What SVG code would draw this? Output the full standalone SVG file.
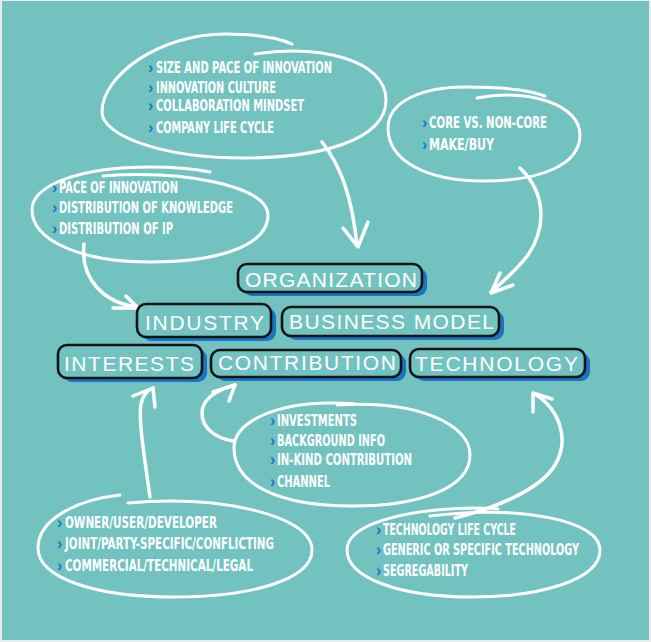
<svg xmlns="http://www.w3.org/2000/svg" width="651" height="642" viewBox="0 0 651 642">
<defs>
<style>
.bg{fill:#72c3bf}
.ring{fill:none;stroke:#fff;stroke-width:3;stroke-linecap:round;stroke-linejoin:round}
.arr{fill:none;stroke:#fff;stroke-width:3.5;stroke-linecap:round;stroke-linejoin:round}
.sh{fill:#1b73c4}
.bx{fill:#72c3bf;stroke:#141414;stroke-width:2.6}
.lb{fill:#fff;font-family:"Liberation Sans","DejaVu Sans",sans-serif;font-size:21px}
.b{fill:#fff;font-family:"Liberation Sans Narrow","DejaVu Sans Condensed","Liberation Sans",sans-serif;font-weight:bold;font-size:16px}
.c{fill:#1f74c6;font-family:"Liberation Sans","DejaVu Sans",sans-serif;font-weight:bold;font-size:16px}
</style>
</defs>
<rect x="0" y="0" width="651" height="642" fill="#e9eceb"/>
<rect class="bg" x="2" y="1" width="647" height="639"/>

<g id="connectors">
<path class="arr" d="M322,142 C340,165 352,195 357,246"/>
<path class="arr" d="M343,228 L358,247 L368,222"/>
<path class="arr" d="M520,168 C548,195 545,230 528,255 C515,272 500,284 491,292"/>
<path class="arr" d="M500,273 L491,293 L513,285"/>
<path class="arr" d="M84,244 C80,280 105,303 137,307"/>
<path class="arr" d="M126,296 L138,308 L113,308"/>
<path class="arr" d="M150,497 C145,460 138,420 141,404 C143,395 148,390 153,388"/>
<path class="arr" d="M133,396 L153,388 L155,407"/>
<path class="arr" d="M233,441 C215,438 202,428 202,413 C202,400 215,390 235,385"/>
<path class="arr" d="M213,392 L235,385 L229,401"/>
<path class="arr" d="M455,518 C495,508 540,490 555,465 C570,440 560,410 535,394"/>
<path class="arr" d="M533,412 L533,393 L552,399"/>
</g>

<g id="note-organization">
<path class="ring" d="M255,54 C320,44 386,60 386,100 C386,140 320,158 244,158 C160,158 102,135 102,112 C102,75 160,34 225,34 C255,34 278,38 292,44"/>
<text class="c" x="148" y="73">›</text><text class="b" x="156" y="73" textLength="176" lengthAdjust="spacingAndGlyphs">SIZE AND PACE OF INNOVATION</text>
<text class="c" x="148" y="93">›</text><text class="b" x="156" y="93" textLength="120" lengthAdjust="spacingAndGlyphs">INNOVATION CULTURE</text>
<text class="c" x="148" y="111">›</text><text class="b" x="156" y="111" textLength="148" lengthAdjust="spacingAndGlyphs">COLLABORATION MINDSET</text>
<text class="c" x="148" y="133">›</text><text class="b" x="156" y="133" textLength="118" lengthAdjust="spacingAndGlyphs">COMPANY LIFE CYCLE</text>
</g>

<g id="note-business-model">
<path class="ring" d="M477,98 C530,88 580,105 580,135 C580,165 540,181 484,181 C425,181 388,160 388,128 C388,100 425,87 465,87 C500,87 530,90 545,96"/>
<text class="c" x="422" y="128">›</text><text class="b" x="429" y="128" textLength="118" lengthAdjust="spacingAndGlyphs">CORE VS. NON-CORE</text>
<text class="c" x="422" y="150">›</text><text class="b" x="429" y="150" textLength="65" lengthAdjust="spacingAndGlyphs">MAKE/BUY</text>
</g>

<g id="note-industry">
<path class="ring" d="M103,176 C180,170 268,185 268,215 C268,245 220,262 150,262 C80,262 32,240 32,210 C32,185 80,167 150,167 C175,167 195,169 210,172"/>
<text class="c" x="52" y="193">›</text><text class="b" x="59" y="193" textLength="119" lengthAdjust="spacingAndGlyphs">PACE OF INNOVATION</text>
<text class="c" x="52" y="213">›</text><text class="b" x="59" y="213" textLength="174" lengthAdjust="spacingAndGlyphs">DISTRIBUTION OF KNOWLEDGE</text>
<text class="c" x="52" y="234">›</text><text class="b" x="59" y="234" textLength="114" lengthAdjust="spacingAndGlyphs">DISTRIBUTION OF IP</text>
</g>

<g id="note-contribution">
<path class="ring" d="M337,405 C420,400 470,425 470,455 C470,488 420,506 352,506 C280,506 234,485 234,448 C234,420 280,403 330,403 C340,403 348,403 354,404"/>
<text class="c" x="270" y="426">›</text><text class="b" x="277" y="426" textLength="80" lengthAdjust="spacingAndGlyphs">INVESTMENTS</text>
<text class="c" x="270" y="446">›</text><text class="b" x="277" y="446" textLength="108" lengthAdjust="spacingAndGlyphs">BACKGROUND INFO</text>
<text class="c" x="270" y="465">›</text><text class="b" x="277" y="465" textLength="135" lengthAdjust="spacingAndGlyphs">IN-KIND CONTRIBUTION</text>
<text class="c" x="270" y="487">›</text><text class="b" x="277" y="487" textLength="53" lengthAdjust="spacingAndGlyphs">CHANNEL</text>
</g>

<g id="note-interests">
<path class="ring" d="M128,503 C220,495 312,515 312,550 C312,580 250,597 174,597 C95,597 38,578 38,548 C38,520 75,500 120,495"/>
<text class="c" x="57" y="528">›</text><text class="b" x="65" y="528" textLength="152" lengthAdjust="spacingAndGlyphs">OWNER/USER/DEVELOPER</text>
<text class="c" x="57" y="549">›</text><text class="b" x="65" y="549" textLength="209" lengthAdjust="spacingAndGlyphs">JOINT/PARTY-SPECIFIC/CONFLICTING</text>
<text class="c" x="57" y="571">›</text><text class="b" x="65" y="571" textLength="188" lengthAdjust="spacingAndGlyphs">COMMERCIAL/TECHNICAL/LEGAL</text>
</g>

<g id="note-technology">
<path class="ring" d="M430,516 C520,505 600,520 600,550 C600,580 540,597 472,597 C400,597 347,578 347,550 C347,525 400,510 470,508 C480,508 490,508 498,509"/>
<text class="c" x="376" y="535">›</text><text class="b" x="383" y="535" textLength="133" lengthAdjust="spacingAndGlyphs">TECHNOLOGY LIFE CYCLE</text>
<text class="c" x="376" y="555">›</text><text class="b" x="383" y="555" textLength="196" lengthAdjust="spacingAndGlyphs">GENERIC OR SPECIFIC TECHNOLOGY</text>
<text class="c" x="376" y="576">›</text><text class="b" x="383" y="576" textLength="85" lengthAdjust="spacingAndGlyphs">SEGREGABILITY</text>
</g>

<g id="box-organization">
<rect class="sh" x="243" y="268" width="184" height="28" rx="9"/>
<rect class="bx" x="238" y="264" width="184" height="28" rx="9"/>
<text class="lb" x="245" y="287" textLength="172" lengthAdjust="spacing">ORGANIZATION</text>
</g>
<g id="box-industry">
<rect class="sh" x="142" y="308" width="134" height="33" rx="9"/>
<rect class="bx" x="137" y="304" width="134" height="33" rx="9"/>
<text class="lb" x="145" y="330" textLength="119" lengthAdjust="spacing">INDUSTRY</text>
</g>
<g id="box-business-model">
<rect class="sh" x="287" y="311" width="217" height="29" rx="9"/>
<rect class="bx" x="282" y="307" width="217" height="29" rx="9"/>
<text class="lb" x="289" y="329" textLength="205" lengthAdjust="spacing">BUSINESS MODEL</text>
</g>
<g id="box-interests">
<rect class="sh" x="63" y="349" width="144" height="33" rx="9"/>
<rect class="bx" x="58" y="345" width="144" height="33" rx="9"/>
<text class="lb" x="64" y="371" textLength="130" lengthAdjust="spacing">INTERESTS</text>
</g>
<g id="box-contribution">
<rect class="sh" x="216" y="354" width="190" height="27" rx="9"/>
<rect class="bx" x="211" y="350" width="190" height="27" rx="9"/>
<text class="lb" x="218" y="370" textLength="178" lengthAdjust="spacing">CONTRIBUTION</text>
</g>
<g id="box-technology">
<rect class="sh" x="415" y="353" width="175" height="28" rx="9"/>
<rect class="bx" x="410" y="349" width="175" height="28" rx="9"/>
<text class="lb" x="415" y="371" textLength="163" lengthAdjust="spacing">TECHNOLOGY</text>
</g>
</svg>
